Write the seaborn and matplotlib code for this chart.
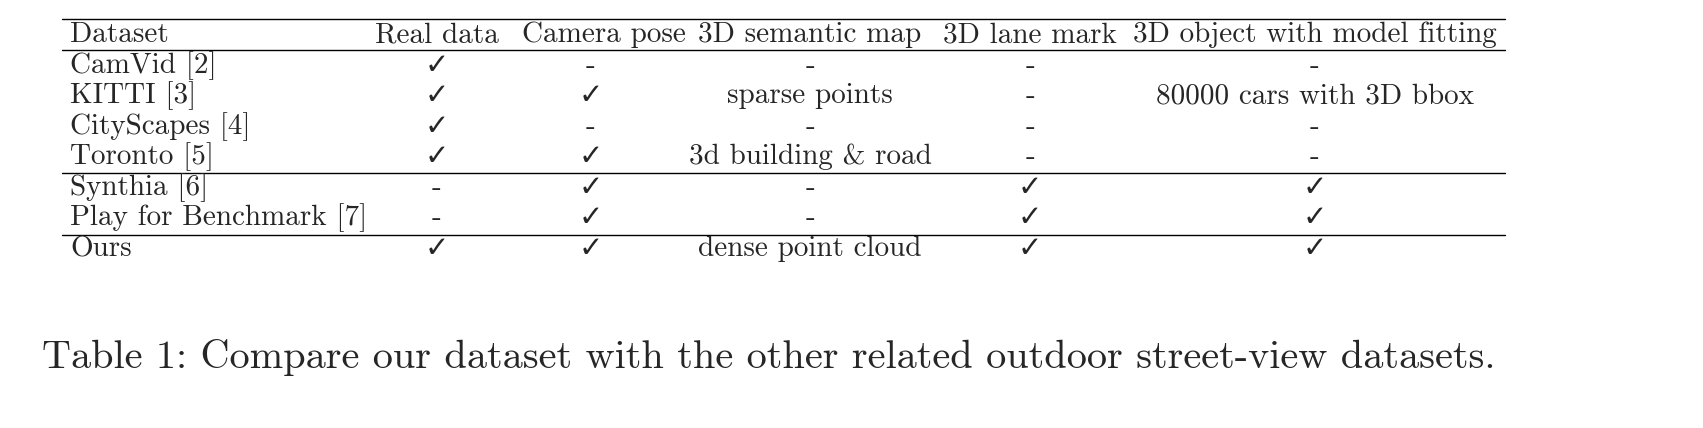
import matplotlib
matplotlib.use("Agg")
import matplotlib.pyplot as plt
import seaborn as sns

sns.set_style("white")
plt.rcParams["font.family"] = ["cmr10", "DejaVu Serif"]
plt.rcParams["axes.formatter.use_mathtext"] = True

HEADERS = ["Dataset", "Real data", "Camera pose", "3D semantic map",
           "3D lane mark", "3D object with model fitting"]
DATASETS = ["CamVid [2]", "KITTI [3]", "CityScapes [4]", "Toronto [5]",
            "Synthia [6]", "Play for Benchmark [7]", "Ours"]
CK = "\u2713"
REAL = [CK, CK, CK, CK, "-", "-", CK]
POSE = ["-", CK, "-", CK, CK, CK, CK]
SEMANTIC = ["-", "sparse points", "-", "3d building & road", "-", "-", "dense point cloud"]
LANE = ["-", "-", "-", "-", CK, CK, CK]
OBJECT = ["-", "80000 cars with 3D bbox", "-", "-", CK, CK, CK]
CAPTION = "Table 1: Compare our dataset with the other related outdoor street-view datasets."

col_x = [70, 437, 591, 810, 1030, 1315]
header_x = [70, 437, 604, 810, 1030, 1315]
row_y = [66, 96, 127, 157, 188, 218, 249]
fs = 21

fig = plt.figure(figsize=(17.03, 4.28), dpi=100)
ax = fig.add_axes([0, 0, 1, 1])
ax.set_xlim(0, 1703)
ax.set_ylim(428, 0)
ax.axis("off")

for i, h in enumerate(HEADERS):
    ax.text(header_x[i], 35, h, fontsize=fs, ha="left" if i == 0 else "center", va="center")

columns = [DATASETS, REAL, POSE, SEMANTIC, LANE, OBJECT]
for c, vals in enumerate(columns):
    for r, v in enumerate(vals):
        fam = ["DejaVu Sans"] if v == CK else ["cmr10", "DejaVu Serif"]
        ax.text(col_x[c], row_y[r], v, fontsize=fs, family=fam,
                ha="left" if c == 0 else "center", va="center")

for y in [19, 50, 173, 235]:
    ax.plot([62, 1505], [y, y], color="black", lw=1.0)

ax.text(42, 357, CAPTION, fontsize=29, ha="left", va="center")

fig.savefig("out.png", dpi=100)
